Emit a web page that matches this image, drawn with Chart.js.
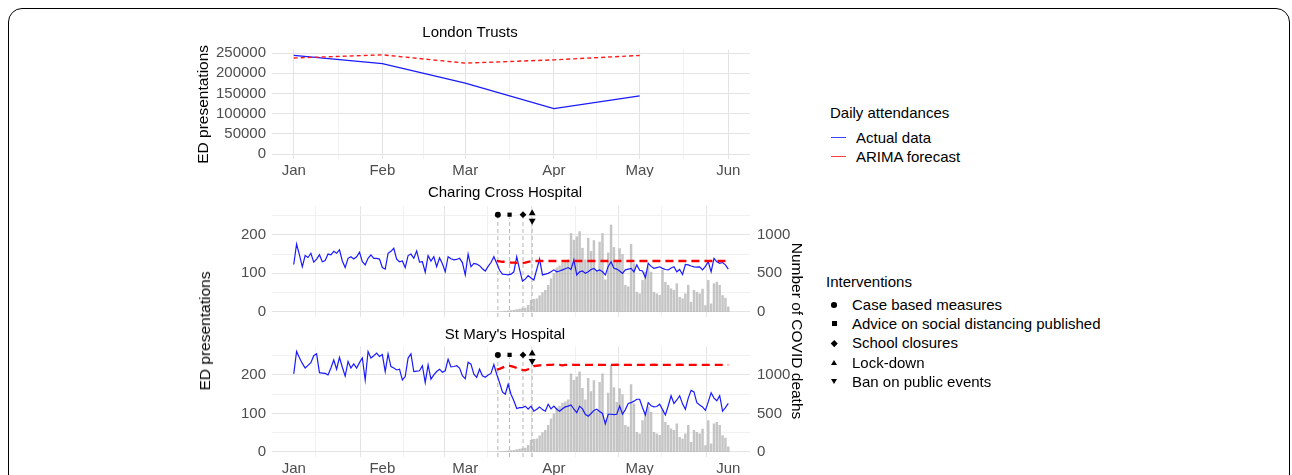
<!DOCTYPE html>
<html><head><meta charset="utf-8">
<script src="https://cdn.jsdelivr.net/npm/chart.js@4.4.1/dist/chart.umd.min.js"></script>
<style>
html,body{margin:0;padding:0;background:#fff;width:1292px;height:475px;overflow:hidden;font-family:'Liberation Sans',Arial,sans-serif;}
.frame{position:absolute;left:8px;top:8px;width:1282px;height:560px;border:1.5px solid #000;border-radius:14px;box-sizing:border-box;}
canvas{position:absolute;}
.t{position:absolute;font-size:15px;line-height:18px;color:#000;white-space:nowrap;}
.rot{position:absolute;font-size:15.5px;line-height:18px;color:#000;white-space:nowrap;transform:translate(-50%,-50%) rotate(-90deg);}
.rotr{position:absolute;font-size:15.5px;line-height:18px;color:#000;white-space:nowrap;transform:translate(-50%,-50%) rotate(90deg);}
.key{position:absolute;height:0;}
.sym{position:absolute;}
</style></head>
<body>
<div class="frame"></div>
<canvas id="c1" width="630" height="157" style="left:190px;top:20px"></canvas>
<canvas id="c2" width="630" height="137" style="left:190px;top:180px"></canvas>
<canvas id="c3" width="630" height="153" style="left:190px;top:322px"></canvas>

<div class="rot" style="left:205px;top:331px">ED presentations</div>
<div class="rotr" style="left:797px;top:331px">Number of COVID deaths</div>

<div id="legend"></div>

<script>
// ---------- DATA ----------
const monthLabels = ['Jan','Feb','Mar','Apr','May','Jun'];
const monthDays = [0, 31, 60, 91, 121, 152];          // day index (0 = 1 Jan 2020)
const midMonthDays = [15.5, 45.5, 75.5, 106, 136.5];

// London Trusts – monthly ED presentations
const trustMonthDays = [0, 31, 60, 91, 121];
const trustActual   = [244000, 224000, 175500, 112500, 144000];
const trustForecast = [237500, 245500, 225000, 233000, 244000];

// Charing Cross Hospital – daily attendances (from 1 Jan)
const ccActual = [
 123,176,148,117,146,141,152,129,137,148,130,133,150,148,157,152,161,132,115,139,
 143,137,143,155,130,122,139,148,139,139,137,115,111,152,157,165,137,130,132,115,
 146,150,139,158,129,130,103,146,132,143,117,140,125,104,143,138,135,136,139,128,
 96,150,117,126,124,120,112,106,118,128,143,126,108,98,97,96,98,104,143,110,
 80,85,94,88,83,110,137,96,98,100,104,109,104,106,109,112,115,110,135,96,
 104,106,100,104,110,113,106,109,104,96,118,130,113,111,106,100,109,111,113,104,
 122,108,106,89,126,118,113,115,117,113,110,109,114,117,104,110,97,123,122,119,
 117,116,117,109,118,130,104,139,130,126,128,122,111
];
// St Mary's Hospital – daily attendances (from 1 Jan)
const smActual = [
 203,261,245,230,218,225,232,250,255,206,205,204,200,218,239,215,246,220,197,235,
 218,229,218,232,244,187,261,244,250,257,248,253,209,255,222,218,213,215,187,196,
 244,255,209,210,211,224,180,226,189,200,209,215,207,211,241,221,222,224,218,198,
 190,233,228,202,194,215,198,194,200,204,227,202,180,156,150,176,150,133,113,115,
 115,119,111,119,106,111,117,110,106,124,112,119,111,106,112,117,119,122,111,102,
 119,112,98,93,100,108,111,105,100,73,98,98,97,98,119,98,110,126,128,132,
 137,137,115,96,128,120,117,118,124,110,96,120,146,126,135,146,125,111,140,160,
 156,128,122,117,108,130,154,140,133,146,106,115,126
];

// ARIMA forecasts (daily, starting at forecastStartDay)
const forecastStartDay = 71;
const ccForecast = [
 132,131,130,130,129,128,128,127,127,127,128,130,131,132,132,132,132,132,132,132,
 132,132,132,132,132,132,132,132,132,132,132,132,132,132,132,132,132,132,132,132,
 132,132,132,132,132,132,132,132,132,132,132,132,132,132,132,132,132,132,132,132,
 132,132,132,132,132,132,132,132,132,132,132,132,132,132,132,132,132,132,132,132,132,132
];
const smForecast = [
 214,216,219,222,224,223,221,218,215,213,212,215,219,223,224,225,226,225,226,226,
 227,226,226,225,226,226,227,226,226,226,227,226,226,226,226,227,226,226,226,226,
 226,226,227,226,226,226,226,226,227,226,226,226,226,226,226,227,226,226,226,226,
 226,226,226,226,227,226,226,226,226,226,226,226,226,226,226,226,226,226,226,226,226,226
];

// London daily COVID deaths (right axis), starting at deathsStartDay
const deathsStartDay = 66;
const covidDeaths = [
 0,1,2,3,4,5,8,10,14,18,22,27,35,42,48,55,90,155,168,175,
 215,255,285,350,435,500,575,600,640,655,680,1020,935,980,1045,830,680,960,790,930,
 530,910,1020,420,770,1130,840,650,826,750,350,330,880,630,260,240,413,520,590,520,
 260,240,220,545,390,350,305,285,370,195,175,240,350,130,285,260,240,300,87,413,
 109,370,390,350,217,183,70
];

// Interventions
const interventionNames = ['Case based measures','Advice on social distancing published','School closures','Lock-down','Ban on public events'];
const interventionDays  = [71.4, 75.5, 80.2, 83.4, 83.4];

// ---------- STYLE / LAYOUT ----------
const FONT = "'Liberation Sans', Arial, sans-serif";
Chart.defaults.font.family = FONT;
Chart.defaults.font.size = 15;
Chart.defaults.color = '#4d4d4d';
const GRID_MAJOR = '#e4e4e4', GRID_MINOR = '#f1f1f1';
const X_MIN = -7.6, X_MAX = 159.6;
const LOW_MIN = -13.1, LOW_MAX = 274.5, RIGHT_FACTOR = 5;
const markerStyles = [
  {pointStyle:'circle', radius:3.0, y:252, rotation:0},
  {pointStyle:'rect', radius:3.0, y:252, rotation:0},
  {pointStyle:'rectRot', radius:3.4, y:252, rotation:0},
  {pointStyle:'triangle', radius:4.0, y:256, rotation:0},
  {pointStyle:'triangle', radius:4.0, y:236.5, rotation:180}
];

const xGridTicks = monthDays.concat(midMonthDays).sort((a,b)=>a-b);
const xLabel = v => { const i = monthDays.indexOf(v); return i >= 0 ? monthLabels[i] : ''; };
const xGridColor = ctx => (ctx.tick && monthDays.includes(ctx.tick.value)) ? GRID_MAJOR : GRID_MINOR;
const noPad = s => { s.paddingTop = 0; s.paddingBottom = 0; s.paddingLeft = 0; s.paddingRight = 0; };

function xScale(showLabels) {
  return {
    type:'linear', min:X_MIN, max:X_MAX, offset:false,
    afterBuildTicks: s => { s.ticks = xGridTicks.map(v => ({value:v})); },
    afterFit: s => { s.height = showLabels ? 18 : 0; noPad(s); },
    ticks:{display:showLabels, autoSkip:false, maxRotation:0, minRotation:0, padding:3, color:'#4d4d4d', callback: v => xLabel(v)},
    grid:{color:xGridColor, lineWidth:1, drawTicks:false},
    border:{display:false}
  };
}

const toXY = (arr, start) => arr.map((v,i) => ({x:start+i, y:v}));

// ---------- TOP CHART ----------
new Chart(document.getElementById('c1'), {
  type:'line',
  data:{datasets:[
    {label:'ARIMA forecast', data:trustMonthDays.map((d,i)=>({x:d,y:trustForecast[i]})), borderColor:'#ff1a1a', borderWidth:1.4, borderDash:[4,3], pointRadius:0, tension:0, order:1},
    {label:'Actual data', data:trustMonthDays.map((d,i)=>({x:d,y:trustActual[i]})), borderColor:'#1a1aff', borderWidth:1.3, pointRadius:0, tension:0, order:2}
  ]},
  options:{
    responsive:false, animation:false, events:[],
    layout:{padding:{top:0,right:70,bottom:0,left:0}, autoPadding:false},
    plugins:{legend:{display:false}, tooltip:{enabled:false},
      title:{display:true, text:'London Trusts', color:'#000', font:{size:15, weight:'normal'}, padding:{top:4,bottom:7.7}}},
    scales:{
      x:xScale(true),
      y:{min:-12300, max:258200,
        afterBuildTicks: s => { const t=[]; for(let v=0; v<=250000; v+=25000) t.push({value:v}); s.ticks=t; },
        afterFit: s => { s.width = 82; noPad(s); },
        ticks:{padding:6, color:'#4d4d4d', callback: v => (v % 50000 === 0) ? String(v) : ''},
        grid:{color: ctx => (ctx.tick && ctx.tick.value % 50000 === 0) ? GRID_MAJOR : GRID_MINOR, drawTicks:false},
        border:{display:false},
        title:{display:true, text:'ED presentations', color:'#000', font:{size:15.5}, padding:{top:4,bottom:0}}
      }
    }
  }
});

// ---------- HOSPITAL CHARTS ----------
function hospitalChart(id, title, actual, forecast, showX, titlePadBottom) {
  const ds = [];
  ds.push({type:'bar', label:'COVID deaths', yAxisID:'y2', data:toXY(covidDeaths, deathsStartDay),
           backgroundColor:'rgba(175,175,175,0.72)', borderWidth:0, barPercentage:0.86, categoryPercentage:1, order:10});
  ds.push({type:'line', label:'Actual data', data:toXY(actual, 0), borderColor:'#1a1aff', borderWidth:1.2, pointRadius:0, tension:0, order:3});
  ds.push({type:'line', label:'ARIMA forecast', data:toXY(forecast, forecastStartDay), borderColor:'#ff0000', borderWidth:2.3, borderDash:[8,5], pointRadius:0, tension:0, order:2});
  const uniqueDays = [...new Set(interventionDays)];
  uniqueDays.forEach(d => ds.push({type:'line', data:[{x:d,y:LOW_MIN},{x:d,y:245}], borderColor:'#b5b5b5', borderWidth:1, borderDash:[4,3], pointRadius:0, order:4}));
  interventionDays.forEach((d,i) => {
    const m = markerStyles[i];
    ds.push({type:'scatter', label:interventionNames[i], data:[{x:d, y:m.y}], pointStyle:m.pointStyle, pointRadius:m.radius, pointRotation:m.rotation,
             backgroundColor:'#000', borderColor:'#000', borderWidth:0, order:1});
  });
  new Chart(document.getElementById(id), {
    type:'line',
    data:{datasets:ds},
    options:{
      responsive:false, animation:false, events:[],
      layout:{padding:0, autoPadding:false},
      plugins:{legend:{display:false}, tooltip:{enabled:false},
        title:{display:true, text:title, color:'#000', font:{size:15, weight:'normal'}, padding:{top:4,bottom:titlePadBottom}}},
      scales:{
        x:xScale(showX),
        y:{position:'left', min:LOW_MIN, max:LOW_MAX,
          afterBuildTicks: s => { s.ticks=[0,50,100,150,200,250].map(v=>({value:v})); },
          afterFit: s => { s.width = 82; noPad(s); },
          ticks:{padding:6, color:'#4d4d4d', callback: v => (v % 100 === 0) ? String(v) : ''},
          grid:{color: ctx => (ctx.tick && ctx.tick.value % 100 === 0) ? GRID_MAJOR : GRID_MINOR, drawTicks:false},
          border:{display:false}
        },
        y2:{position:'right', min:LOW_MIN*RIGHT_FACTOR, max:LOW_MAX*RIGHT_FACTOR,
          afterBuildTicks: s => { s.ticks=[0,500,1000].map(v=>({value:v})); },
          afterFit: s => { s.width = 70; noPad(s); },
          ticks:{padding:7, color:'#4d4d4d', callback: v => String(v)},
          grid:{display:false, drawTicks:false},
          border:{display:false}
        }
      }
    }
  });
}
hospitalChart('c2', 'Charing Cross Hospital', ccActual, ccForecast, false, 4);
hospitalChart('c3', "St Mary's Hospital", smActual, smForecast, true, 2.3);

// ---------- LEGEND (HTML) ----------
(function(){
  const L = document.getElementById('legend');
  const add = (html) => L.insertAdjacentHTML('beforeend', html);
  add('<div class="t" style="left:830px;top:104px">Daily attendances</div>');
  const lineKeys = [['Actual data','#4040ff'],['ARIMA forecast','#ff4040']];
  lineKeys.forEach((k,i) => {
    const cy = 137.5 + i*19;
    add(`<div class="key" style="left:831px;top:${cy-0.75}px;width:15px;border-top:1.5px solid ${k[1]}"></div>`);
    add(`<div class="t" style="left:856px;top:${cy-9}px">${k[0]}</div>`);
  });
  add('<div class="t" style="left:826px;top:273px">Interventions</div>');
  const shapes = [
    'left:831px;width:5.5px;height:5.5px;border-radius:50%;background:#000;',
    'left:831.5px;width:5px;height:5px;background:#000;',
    'left:832px;width:4.5px;height:4.5px;background:#000;transform:rotate(45deg);',
    'left:831px;width:0;height:0;border-left:3px solid transparent;border-right:3px solid transparent;border-bottom:5.5px solid #000;',
    'left:831px;width:0;height:0;border-left:3px solid transparent;border-right:3px solid transparent;border-top:5.5px solid #000;'
  ];
  interventionNames.forEach((n,i) => {
    const cy = 305 + i*19.2;
    add(`<div class="sym" style="${shapes[i]}top:${cy-2.75}px"></div>`);
    add(`<div class="t" style="left:852px;top:${cy-9}px">${n}</div>`);
  });
})();
</script>
</body></html>
